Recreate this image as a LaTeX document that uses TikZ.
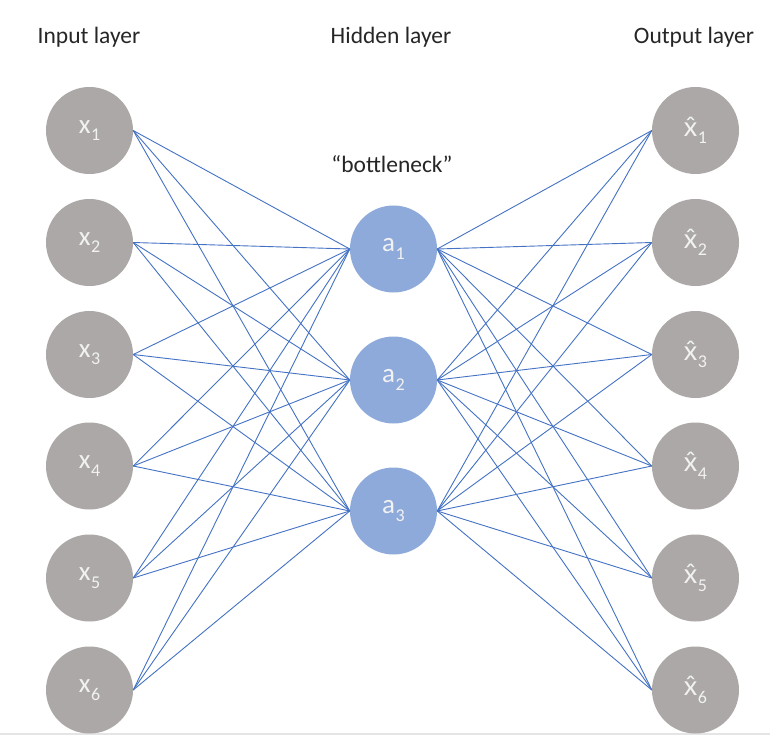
\documentclass[tikz,border=0pt]{standalone}
\usepackage{fontspec}
\setmainfont{Carlito}
\newfontfamily\hatfont{Lato}
\definecolor{nodegray}{HTML}{ABA8A7}
\definecolor{hidblue}{HTML}{8EAADB}
\definecolor{linkblue}{HTML}{4472C4}
\definecolor{labelwhite}{HTML}{F2F2F2}
\definecolor{titletext}{HTML}{262626}
\newcommand\nlab[2]{#1\kern0.5pt\raisebox{-0.28em}{\fontsize{18}{18}\selectfont #2}}
\newcommand\xhat{{\hatfont x̂}}
\begin{document}
\begin{tikzpicture}[x=1pt,y=-1pt,
  neuron/.style={circle,minimum size=87pt,inner sep=0pt,fill=nodegray,text=labelwhite,font=\fontsize{27}{27}\selectfont},
  hidneuron/.style={neuron,fill=hidblue},
  title/.style={text=titletext,font=\fontsize{23.5}{23.5}\selectfont,inner sep=0pt,anchor=base},
  link/.style={draw=linkblue,line width=0.9pt}]
\useasboundingbox (0,0) rectangle (770,735);
\fill[white] (0,0) rectangle (770,735);
\draw[black!10,line width=1.2pt] (0,734) -- (770,734);
% titles
\node[title] (tin) at (89,44) {Input layer};
\node[title] (thid) at (391,44) {Hidden layer};
\node[title] (tout) at (694,44) {Output layer};
\node[title] (tbn) at (392,173) {“bottleneck”};
% input and output layers
\foreach \i/\y in {1/130.5,2/242.5,3/354.5,4/466,5/578,6/690}{
  \node[neuron] (x\i) at (89.5,\y) {\nlab{x}{\i}};
  \node[neuron] (o\i) at (695.5,\y) {\nlab{\xhat}{\i}};
}
% hidden layer
\foreach \i/\y in {1/249,2/380,3/511}{
  \node[hidneuron] (a\i) at (393.5,\y) {\nlab{a}{\i}};
}
\foreach \i in {1,...,6}{
  \foreach \j in {1,2,3}{
    \draw[link] (x\i.east) -- (a\j.west);
    \draw[link] (a\j.east) -- (o\i.west);
  }
}
\end{tikzpicture}
\end{document}
